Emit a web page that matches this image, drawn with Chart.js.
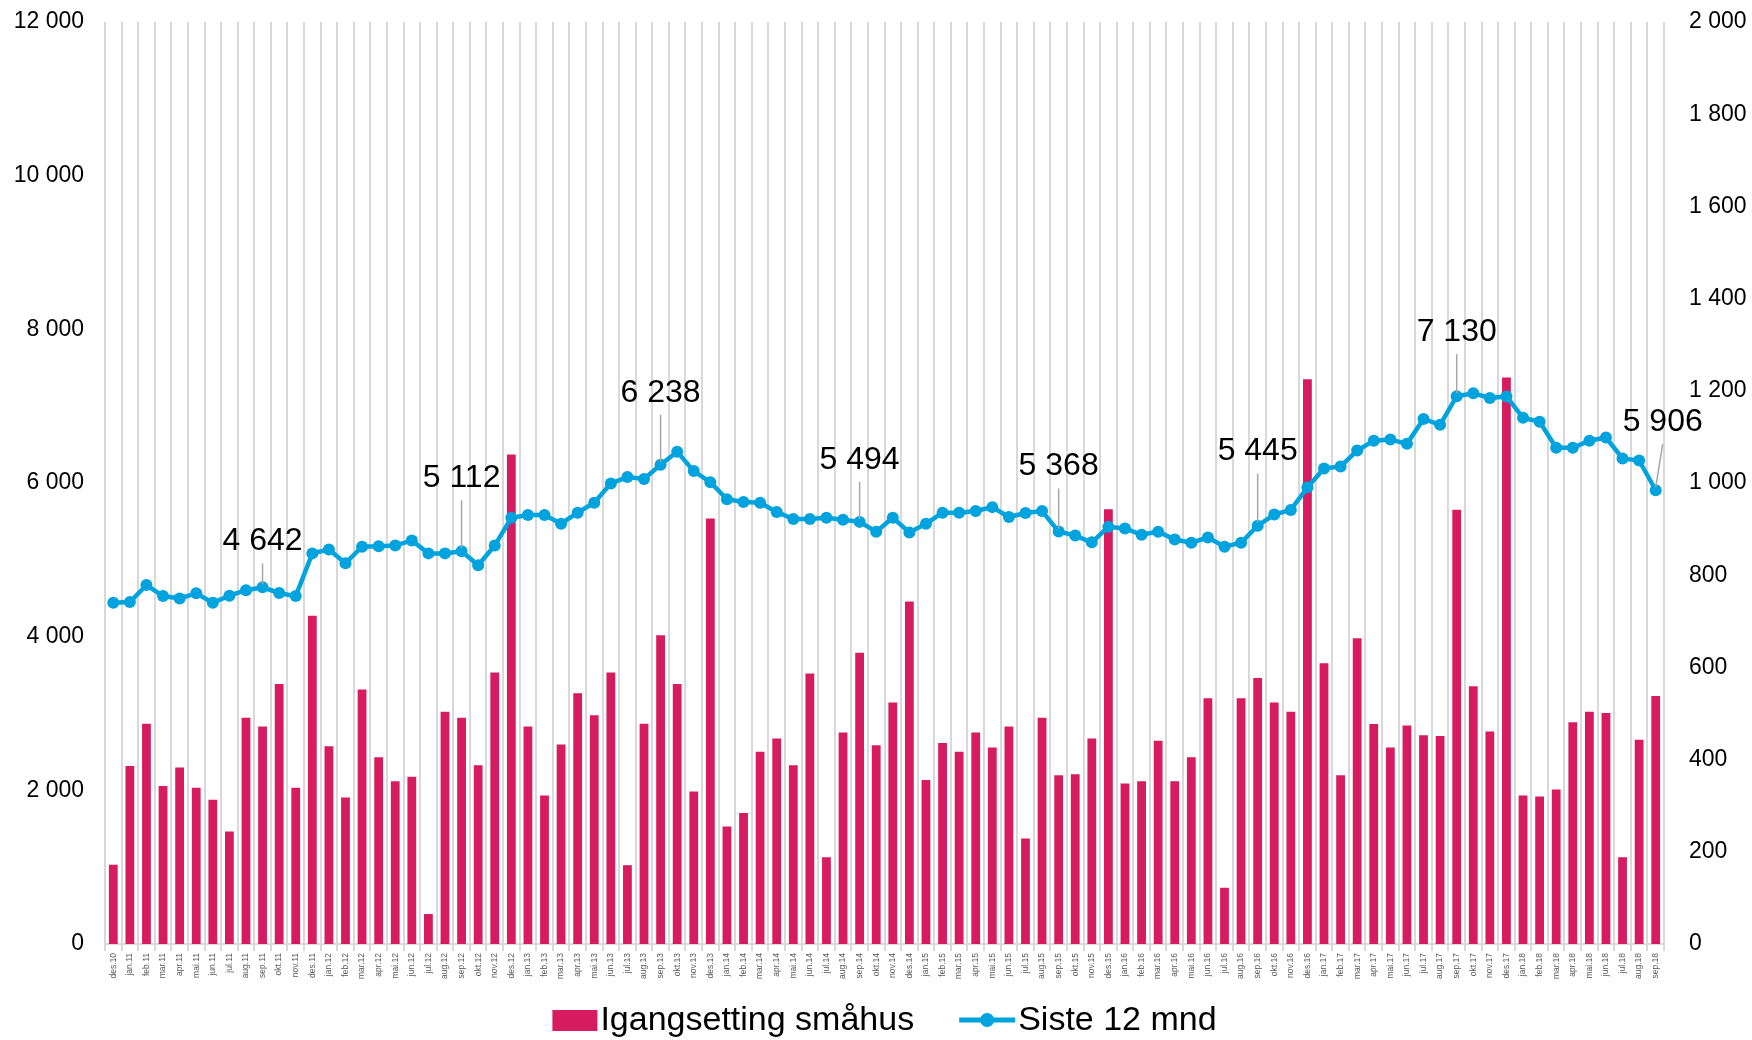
<!DOCTYPE html>
<html>
<head>
<meta charset="utf-8">
<script src="https://cdn.jsdelivr.net/npm/chart.js@4.4.1/dist/chart.umd.min.js"></script>
<style>
  html, body { margin: 0; padding: 0; background: #fff; }
</style>
</head>
<body>
<canvas id="chart" width="1752" height="1040"></canvas>
<script>
// months on the x axis (des.10 - sep.18)
const months = [
    'des.10',
    'jan.11', 'feb.11', 'mar.11', 'apr.11', 'mai.11', 'jun.11', 'jul.11', 'aug.11', 'sep.11', 'okt.11', 'nov.11', 'des.11',
    'jan.12', 'feb.12', 'mar.12', 'apr.12', 'mai.12', 'jun.12', 'jul.12', 'aug.12', 'sep.12', 'okt.12', 'nov.12', 'des.12',
    'jan.13', 'feb.13', 'mar.13', 'apr.13', 'mai.13', 'jun.13', 'jul.13', 'aug.13', 'sep.13', 'okt.13', 'nov.13', 'des.13',
    'jan.14', 'feb.14', 'mar.14', 'apr.14', 'mai.14', 'jun.14', 'jul.14', 'aug.14', 'sep.14', 'okt.14', 'nov.14', 'des.14',
    'jan.15', 'feb.15', 'mar.15', 'apr.15', 'mai.15', 'jun.15', 'jul.15', 'aug.15', 'sep.15', 'okt.15', 'nov.15', 'des.15',
    'jan.16', 'feb.16', 'mar.16', 'apr.16', 'mai.16', 'jun.16', 'jul.16', 'aug.16', 'sep.16', 'okt.16', 'nov.16', 'des.16',
    'jan.17', 'feb.17', 'mar.17', 'apr.17', 'mai.17', 'jun.17', 'jul.17', 'aug.17', 'sep.17', 'okt.17', 'nov.17', 'des.17',
    'jan.18', 'feb.18', 'mar.18', 'apr.18', 'mai.18', 'jun.18', 'jul.18', 'aug.18', 'sep.18'
];

// Igangsetting småhus, per month (right axis)
const starts = [
    172,
    386, 478, 343, 383, 339, 313, 244, 491, 472, 564, 339, 712,
    429, 318, 552, 405, 353, 363, 65, 504, 491, 388, 589, 1062,
    472, 322, 433, 544, 496, 589, 171, 478, 670, 564, 331, 923,
    255, 284, 417, 446, 388, 587, 188, 459, 632, 431, 524, 743,
    356, 436, 417, 459, 426, 472, 229, 491, 366, 368, 446, 943,
    348, 353, 441, 353, 405, 533, 122, 533, 577, 524, 504, 1225,
    609, 366, 663, 477, 426, 474, 453, 451, 942, 559, 461, 1229,
    322, 320, 335, 481, 504, 501, 188, 443, 538
];

// Siste 12 mnd (left axis)
const rolling = [
    4441,
    4451, 4672, 4528, 4497, 4564, 4441, 4533, 4605, 4642, 4569, 4528, 5084,
    5135, 4955, 5171, 5176, 5186, 5253, 5084, 5084, 5112, 4930, 5186, 5547,
    5583, 5583, 5470, 5614, 5743, 5995, 6077, 6052, 6238, 6407, 6155, 6010,
    5789, 5753, 5743, 5624, 5532, 5532, 5547, 5521, 5494, 5367, 5547, 5357,
    5470, 5614, 5614, 5635, 5686, 5557, 5609, 5635, 5368, 5316, 5228, 5429,
    5409, 5326, 5367, 5264, 5223, 5290, 5171, 5223, 5445, 5589, 5650, 5943,
    6190, 6216, 6422, 6551, 6567, 6510, 6834, 6757, 7130, 7168, 7106, 7127,
    6849, 6798, 6458, 6458, 6551, 6592, 6319, 6293, 5906
];

// months whose 12-month value is printed above the line
const labelledMonths = ['sep.11', 'sep.12', 'sep.13', 'sep.14', 'sep.15', 'sep.16', 'sep.17', 'sep.18'];

const leftTicks = [0, 2000, 4000, 6000, 8000, 10000, 12000];
const rightTicks = [0, 200, 400, 600, 800, 1000, 1200, 1400, 1600, 1800, 2000];

const FONT = "'Liberation Sans', Arial, Helvetica, sans-serif";
const BAR_COLOR = '#d61c5e';
const LINE_COLOR = '#00a3de';

function fmt(n) {
    return String(Math.round(n)).replace(/\B(?=(\d{3})+(?!\d))/g, ' ');
}

Chart.defaults.font.family = FONT;

// value labels with leader lines above the september points
const sepLabels = {
    id: 'sepLabels',
    afterDatasetsDraw(chart, args, opts) {
        const meta = chart.getDatasetMeta(1);
        const ctx = chart.ctx;
        ctx.save();
        labelledMonths.forEach(m => {
            const i = months.indexOf(m);
            const pt = meta.data[i];
            const lift = opts.lift[m] || 65;
            const tx = pt.x + (opts.shift[m] || 0);
            const ty = pt.y - lift;
            ctx.strokeStyle = '#a6a6a6';
            ctx.lineWidth = 1.5;
            ctx.beginPath();
            ctx.moveTo(tx, ty + 22);
            ctx.lineTo(pt.x, pt.y - 3);
            ctx.stroke();
            ctx.font = '32px ' + FONT;
            ctx.fillStyle = '#000';
            ctx.textAlign = 'center';
            ctx.textBaseline = 'middle';
            ctx.fillText(fmt(rolling[i]), tx, ty);
        });
        ctx.restore();
    }
};

// legend under the chart: bar box and line-with-marker swatches
const bottomLegend = {
    id: 'bottomLegend',
    afterDraw(chart, args, opts) {
        const ctx = chart.ctx;
        const ds = chart.data.datasets;
        ctx.save();
        ctx.font = opts.size + 'px ' + FONT;
        ctx.textBaseline = 'middle';
        ctx.textAlign = 'left';
        const swatch = [45, 56];
        const widths = ds.map((d, k) => swatch[k] + 3 + ctx.measureText(d.label).width);
        const total = widths[0] + opts.gap + widths[1];
        const area = chart.chartArea;
        let x = (area.left + area.right) / 2 - total / 2;
        const y = opts.y;
        ds.forEach((d, k) => {
            if (d.type === 'bar') {
                ctx.fillStyle = d.backgroundColor;
                ctx.fillRect(x, y - 10, swatch[k], 21);
            } else {
                ctx.strokeStyle = d.borderColor;
                ctx.lineWidth = 5;
                ctx.beginPath();
                ctx.moveTo(x, y);
                ctx.lineTo(x + swatch[k], y);
                ctx.stroke();
                ctx.fillStyle = d.borderColor;
                ctx.beginPath();
                ctx.arc(x + swatch[k] / 2, y, 7, 0, Math.PI * 2);
                ctx.fill();
            }
            ctx.fillStyle = '#000';
            ctx.fillText(d.label, x + swatch[k] + 3, y + 1);
            x += widths[k] + opts.gap;
        });
        ctx.restore();
    }
};

// fixed axis sizes so the plot area lands where the original has it
function fixY(width) {
    return function (s) {
        s.width = width;
        s.paddingTop = 0;
        s.paddingBottom = 0;
    };
}

const ctx = document.getElementById('chart').getContext('2d');

new Chart(ctx, {
    type: 'bar',
    data: {
        labels: months,
        datasets: [
            {
                type: 'bar',
                label: 'Igangsetting småhus',
                data: starts,
                yAxisID: 'y1',
                backgroundColor: BAR_COLOR,
                barPercentage: 0.53,
                categoryPercentage: 1,
                order: 2
            },
            {
                type: 'line',
                label: 'Siste 12 mnd',
                data: rolling,
                yAxisID: 'y',
                borderColor: LINE_COLOR,
                backgroundColor: LINE_COLOR,
                borderWidth: 4.5,
                pointRadius: 6,
                pointBorderWidth: 0,
                pointBackgroundColor: LINE_COLOR,
                tension: 0,
                order: 1
            }
        ]
    },
    options: {
        responsive: false,
        animation: false,
        layout: { padding: { top: 22, bottom: 46, left: 0, right: 0 } },
        plugins: {
            legend: { display: false },
            tooltip: { enabled: false },
            sepLabels: {
                lift: { 'sep.11': 46, 'sep.12': 73, 'sep.13': 72, 'sep.14': 62, 'sep.15': 65, 'sep.16': 74, 'sep.17': 64, 'sep.18': 68 },
                shift: { 'sep.18': 7 }
            },
            bottomLegend: { size: 34, gap: 45, y: 1020 }
        },
        scales: {
            x: {
                grid: { color: '#d9d9d9', lineWidth: 2, tickLength: 7, offset: true },
                border: { color: '#d9d9d9', width: 2 },
                ticks: {
                    autoSkip: false,
                    minRotation: 90,
                    maxRotation: 90,
                    padding: 2,
                    color: '#595959',
                    font: { size: 8.5 }
                },
                afterFit(s) { s.height = 50; }
            },
            y: {
                position: 'left',
                min: 0,
                max: 12000,
                grid: { display: false },
                border: { display: false },
                ticks: { padding: 13, color: '#000', font: { size: 23 }, callback: v => fmt(v) },
                afterBuildTicks(s) { s.ticks = leftTicks.map(v => ({ value: v })); },
                afterFit: fixY(105)
            },
            y1: {
                position: 'right',
                min: 0,
                max: 2000,
                grid: { display: false },
                border: { display: false },
                ticks: { padding: 17, color: '#000', font: { size: 23 }, callback: v => fmt(v) },
                afterBuildTicks(s) { s.ticks = rightTicks.map(v => ({ value: v })); },
                afterFit: fixY(88)
            }
        }
    },
    plugins: [sepLabels, bottomLegend]
});
</script>
</body>
</html>
